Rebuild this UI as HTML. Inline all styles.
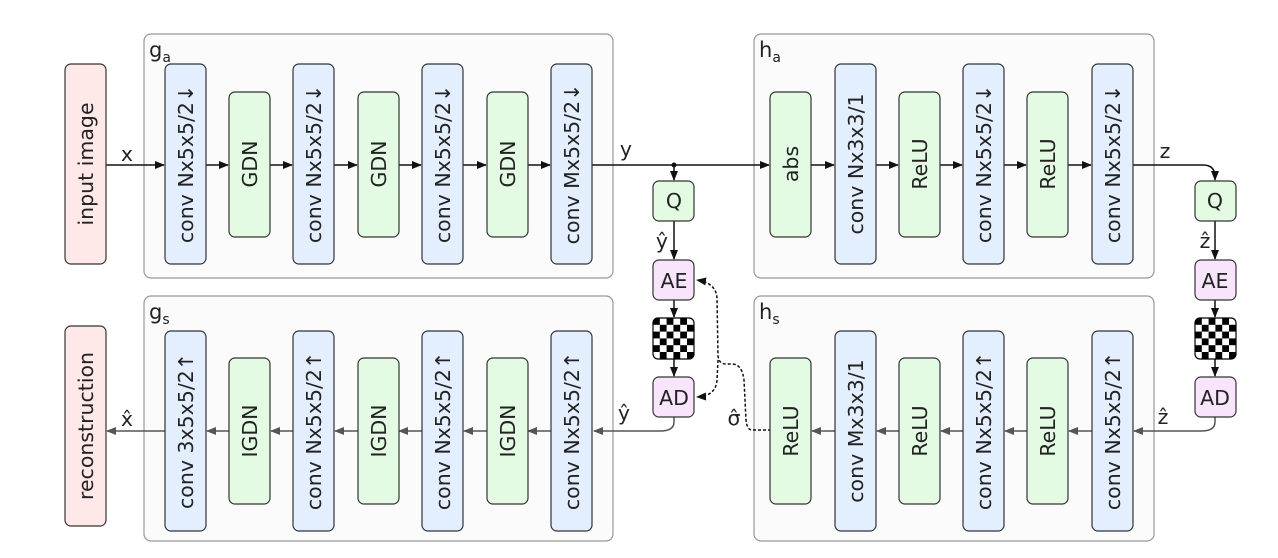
<!DOCTYPE html>
<html><head><meta charset="utf-8"><style>
html,body{margin:0;padding:0;background:#fff;}
svg{display:block;}
text{font-family:"DejaVu Sans","Liberation Sans",sans-serif;fill:#222;}
</style></head><body>
<svg width="1278" height="558" viewBox="0 0 1278 558" xmlns="http://www.w3.org/2000/svg">
<defs>
<marker id="a" markerWidth="10" markerHeight="8" refX="9" refY="4" orient="auto" markerUnits="userSpaceOnUse"><path d="M0,0 L10,4 L0,8 Z" fill="#111"/></marker>
<marker id="g" markerWidth="10" markerHeight="8" refX="9" refY="4" orient="auto" markerUnits="userSpaceOnUse"><path d="M0,0 L10,4 L0,8 Z" fill="#555"/></marker>
<pattern id="ck" x="653" y="318" width="13.6" height="13.6" patternUnits="userSpaceOnUse"><rect width="13.6" height="13.6" fill="#fff"/><rect width="6.8" height="6.8" fill="#000"/><rect x="6.8" y="6.8" width="6.8" height="6.8" fill="#000"/></pattern>
<pattern id="ck2" x="1195" y="318" width="13.6" height="13.6" patternUnits="userSpaceOnUse"><rect width="13.6" height="13.6" fill="#fff"/><rect width="6.8" height="6.8" fill="#000"/><rect x="6.8" y="6.8" width="6.8" height="6.8" fill="#000"/></pattern>
</defs>
<g fill="#fbfbfb" stroke="#999" stroke-width="1.2">
<rect x="144" y="34" width="469" height="244" rx="7"/>
<rect x="754" y="34" width="400" height="244" rx="7"/>
<rect x="144" y="296" width="469" height="245" rx="7"/>
<rect x="754" y="296" width="400" height="245" rx="7"/>
</g>
<g font-size="21">
<text x="149" y="57">g<tspan font-size="14" dy="5">a</tspan></text>
<text x="759" y="57">h<tspan font-size="14" dy="5">a</tspan></text>
<text x="149" y="319">g<tspan font-size="14" dy="5">s</tspan></text>
<text x="759" y="319">h<tspan font-size="14" dy="5">s</tspan></text>
</g>
<g stroke="#111" stroke-width="1.5" fill="none">
<line x1="106" y1="165" x2="164" y2="165" marker-end="url(#a)"/>
<line x1="206" y1="165" x2="228" y2="165" marker-end="url(#a)"/>
<line x1="270" y1="165" x2="292" y2="165" marker-end="url(#a)"/>
<line x1="334" y1="165" x2="357" y2="165" marker-end="url(#a)"/>
<line x1="398" y1="165" x2="421" y2="165" marker-end="url(#a)"/>
<line x1="463" y1="165" x2="486" y2="165" marker-end="url(#a)"/>
<line x1="527" y1="165" x2="550" y2="165" marker-end="url(#a)"/>
<line x1="592" y1="165" x2="769" y2="165" marker-end="url(#a)"/>
<line x1="811" y1="165" x2="834" y2="165" marker-end="url(#a)"/>
<line x1="876" y1="165" x2="898" y2="165" marker-end="url(#a)"/>
<line x1="940" y1="165" x2="962" y2="165" marker-end="url(#a)"/>
<line x1="1004" y1="165" x2="1026" y2="165" marker-end="url(#a)"/>
<line x1="1068" y1="165" x2="1091" y2="165" marker-end="url(#a)"/>
<path d="M1133,165 L1203,165 Q1215,165 1215,177 L1215,180" marker-end="url(#a)"/>
<line x1="674" y1="165" x2="674" y2="180" marker-end="url(#a)"/>
<line x1="674" y1="220" x2="674" y2="259" marker-end="url(#a)"/>
<line x1="674" y1="300" x2="674" y2="317" marker-end="url(#a)"/>
<line x1="674" y1="358" x2="674" y2="376" marker-end="url(#a)"/>
<line x1="1215" y1="221" x2="1215" y2="259" marker-end="url(#a)"/>
<line x1="1215" y1="300" x2="1215" y2="317" marker-end="url(#a)"/>
<line x1="1215" y1="358" x2="1215" y2="376" marker-end="url(#a)"/>
<path d="M771,430 L752,430 Q747,430 746,420 L744,380 Q742,364 732,364 L726,364 Q719,364 718,356 L717,298 Q716,283 697,280" stroke-dasharray="3,2" marker-end="url(#a)"/>
<path d="M718,360 L717,380 Q716,396 697,397" stroke-dasharray="3,2" marker-end="url(#a)"/>
</g>
<circle cx="674" cy="165" r="2.5" fill="#111"/>
<g stroke="#555" stroke-width="1.5" fill="none">
<path d="M674,417 L674,422 Q674,431 660,431 L594,431" marker-end="url(#g)"/>
<path d="M1215,417 L1215,422 Q1215,431 1201,431 L1134,431" marker-end="url(#g)"/>
<line x1="551" y1="431" x2="528" y2="431" marker-end="url(#g)"/>
<line x1="487" y1="431" x2="464" y2="431" marker-end="url(#g)"/>
<line x1="422" y1="431" x2="399" y2="431" marker-end="url(#g)"/>
<line x1="358" y1="431" x2="335" y2="431" marker-end="url(#g)"/>
<line x1="293" y1="431" x2="271" y2="431" marker-end="url(#g)"/>
<line x1="229" y1="431" x2="207" y2="431" marker-end="url(#g)"/>
<line x1="165" y1="431" x2="107" y2="431" marker-end="url(#g)"/>
<line x1="1092" y1="431" x2="1069" y2="431" marker-end="url(#g)"/>
<line x1="1027" y1="431" x2="1005" y2="431" marker-end="url(#g)"/>
<line x1="963" y1="431" x2="941" y2="431" marker-end="url(#g)"/>
<line x1="899" y1="431" x2="877" y2="431" marker-end="url(#g)"/>
<line x1="835" y1="431" x2="812" y2="431" marker-end="url(#g)"/>
</g>
<g stroke="#333" stroke-width="1.2">
<rect x="65" y="64" width="41" height="200" rx="6" fill="#ffe8e8"/>
<rect x="65" y="326" width="41" height="200" rx="6" fill="#ffe8e8"/>
<g fill="#e3efff">
<rect x="165" y="64" width="41" height="200" rx="6"/><rect x="293" y="64" width="41" height="200" rx="6"/><rect x="422" y="64" width="41" height="200" rx="6"/><rect x="551" y="64" width="41" height="200" rx="6"/>
<rect x="835" y="64" width="41" height="200" rx="6"/><rect x="963" y="64" width="41" height="200" rx="6"/><rect x="1092" y="64" width="41" height="200" rx="6"/>
<rect x="165" y="331" width="41" height="200" rx="6"/><rect x="293" y="331" width="41" height="200" rx="6"/><rect x="422" y="331" width="41" height="200" rx="6"/><rect x="551" y="331" width="41" height="200" rx="6"/>
<rect x="835" y="331" width="41" height="200" rx="6"/><rect x="963" y="331" width="41" height="200" rx="6"/><rect x="1092" y="331" width="41" height="200" rx="6"/>
</g>
<g fill="#e3fbe3">
<rect x="229" y="92" width="41" height="145" rx="6"/><rect x="358" y="92" width="41" height="145" rx="6"/><rect x="487" y="92" width="41" height="145" rx="6"/>
<rect x="770" y="92" width="41" height="145" rx="6"/><rect x="899" y="92" width="41" height="145" rx="6"/><rect x="1027" y="92" width="41" height="145" rx="6"/>
<rect x="229" y="358" width="41" height="146" rx="6"/><rect x="358" y="358" width="41" height="146" rx="6"/><rect x="487" y="358" width="41" height="146" rx="6"/>
<rect x="770" y="358" width="41" height="146" rx="6"/><rect x="899" y="358" width="41" height="146" rx="6"/><rect x="1027" y="358" width="41" height="146" rx="6"/>
<rect x="653" y="181" width="41" height="40" rx="6"/><rect x="1195" y="181" width="41" height="40" rx="6"/>
</g>
<g fill="#f8e4fb">
<rect x="653" y="260" width="41" height="40" rx="6"/><rect x="653" y="377" width="41" height="40" rx="6"/>
<rect x="1195" y="260" width="41" height="40" rx="6"/><rect x="1195" y="377" width="41" height="40" rx="6"/>
</g>
<rect x="653" y="318" width="41" height="41" rx="5" fill="url(#ck)" stroke="#000"/>
<rect x="1195" y="318" width="41" height="41" rx="5" fill="url(#ck2)" stroke="#000"/>
</g>
<g font-size="20.5" text-anchor="middle">
<text transform="translate(93,164) rotate(-90)">input image</text>
<text transform="translate(93,426) rotate(-90)">reconstruction</text>
<text transform="translate(193,164) rotate(-90)">conv Nx5x5/2↓</text>
<text transform="translate(321,164) rotate(-90)">conv Nx5x5/2↓</text>
<text transform="translate(450,164) rotate(-90)">conv Nx5x5/2↓</text>
<text transform="translate(579,164) rotate(-90)">conv Mx5x5/2↓</text>
<text transform="translate(257,164) rotate(-90)">GDN</text>
<text transform="translate(386,164) rotate(-90)">GDN</text>
<text transform="translate(515,164) rotate(-90)">GDN</text>
<text transform="translate(798,164) rotate(-90)">abs</text>
<text transform="translate(863,164) rotate(-90)">conv Nx3x3/1</text>
<text transform="translate(927,164) rotate(-90)">ReLU</text>
<text transform="translate(991,164) rotate(-90)">conv Nx5x5/2↓</text>
<text transform="translate(1055,164) rotate(-90)">ReLU</text>
<text transform="translate(1120,164) rotate(-90)">conv Nx5x5/2↓</text>
<text transform="translate(193,431) rotate(-90)">conv 3x5x5/2↑</text>
<text transform="translate(321,431) rotate(-90)">conv Nx5x5/2↑</text>
<text transform="translate(450,431) rotate(-90)">conv Nx5x5/2↑</text>
<text transform="translate(579,431) rotate(-90)">conv Nx5x5/2↑</text>
<text transform="translate(257,431) rotate(-90)">IGDN</text>
<text transform="translate(386,431) rotate(-90)">IGDN</text>
<text transform="translate(515,431) rotate(-90)">IGDN</text>
<text transform="translate(798,431) rotate(-90)">ReLU</text>
<text transform="translate(863,431) rotate(-90)">conv Mx3x3/1</text>
<text transform="translate(927,431) rotate(-90)">ReLU</text>
<text transform="translate(991,431) rotate(-90)">conv Nx5x5/2↑</text>
<text transform="translate(1055,431) rotate(-90)">ReLU</text>
<text transform="translate(1120,431) rotate(-90)">conv Nx5x5/2↑</text>
<text x="674" y="208">Q</text><text x="1215" y="208">Q</text>
<text x="674" y="288">AE</text><text x="674" y="405">AD</text>
<text x="1215" y="288">AE</text><text x="1215" y="405">AD</text>
<text x="127" y="161">x</text>
<text x="626" y="156">y</text>
<text x="1165" y="158">z</text>
<text x="662" y="248">ŷ</text>
<text x="1205" y="248">ẑ</text>
<text x="127" y="426">x̂</text>
<text x="624" y="420">ŷ</text>
<text x="734" y="425">σ̂</text>
<text x="1163" y="424">ẑ</text>
</g>
</svg>
</body></html>
